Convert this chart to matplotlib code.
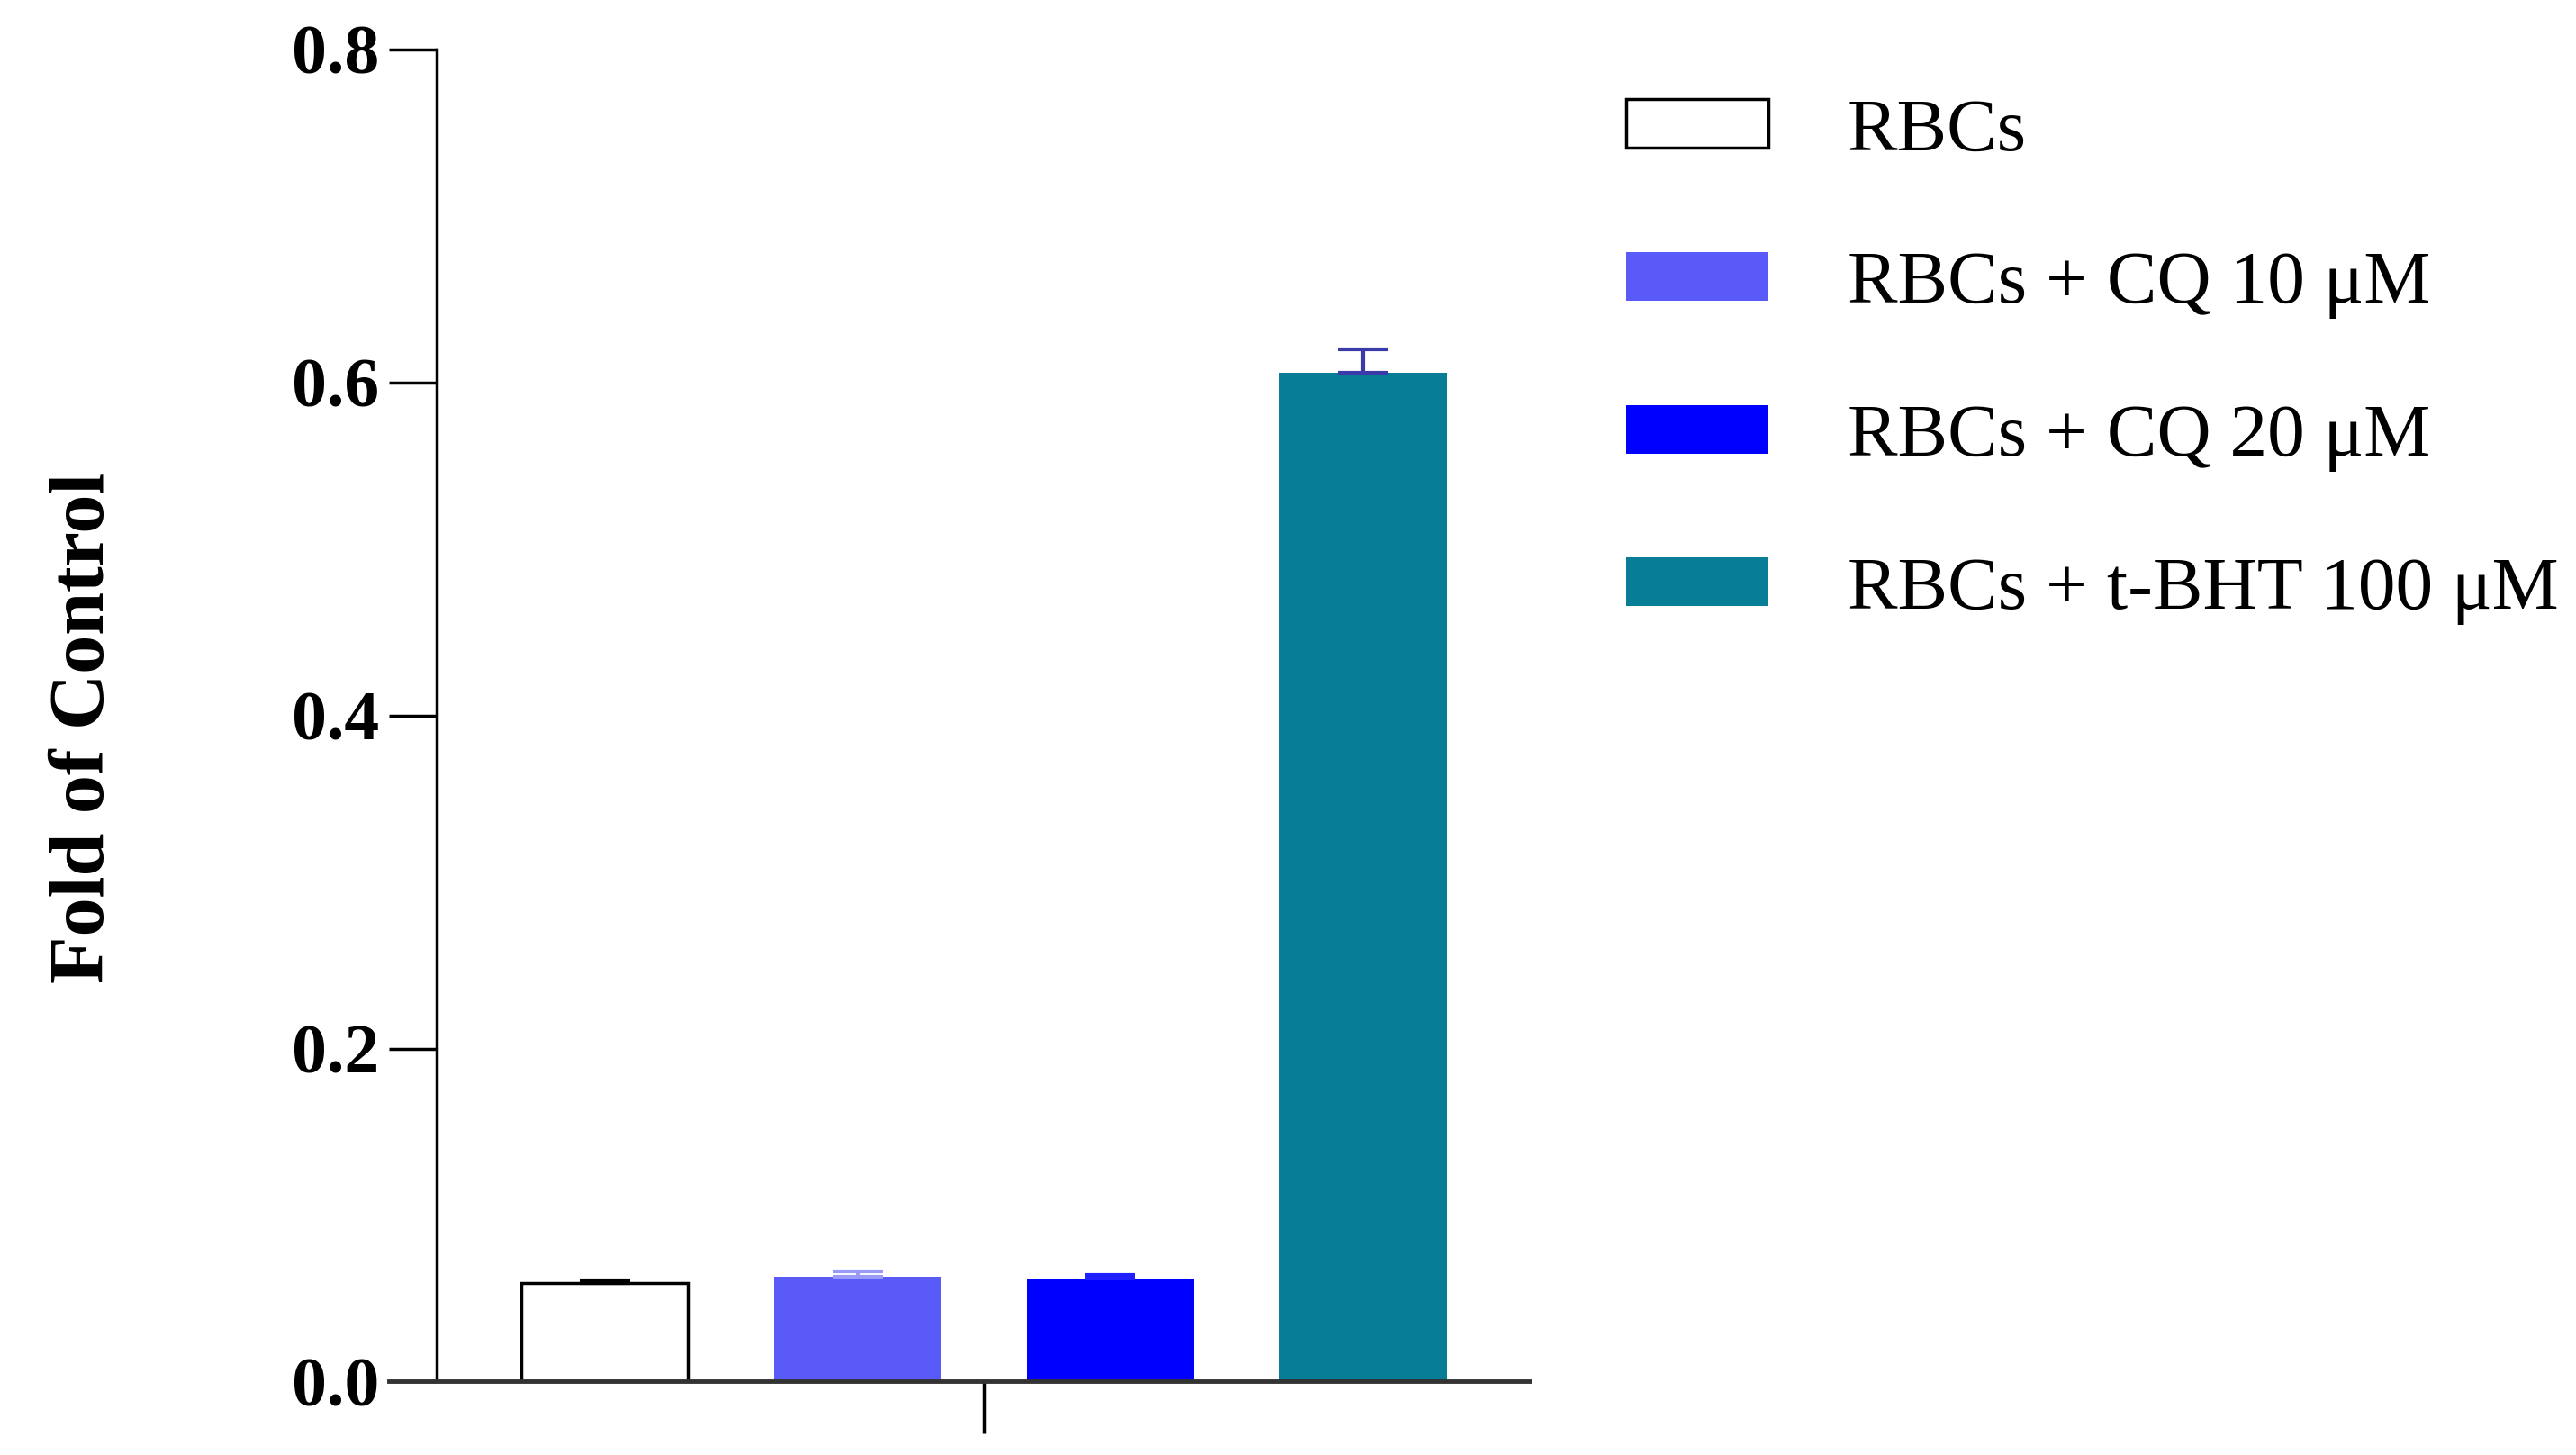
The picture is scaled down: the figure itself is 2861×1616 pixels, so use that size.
import matplotlib
matplotlib.use("Agg")
import matplotlib.pyplot as plt
from matplotlib.patches import Patch

groups = ["RBCs", "RBCs + CQ 10 μM", "RBCs + CQ 20 μM", "RBCs + t-BHT 100 μM"]
means = [0.059, 0.063, 0.062, 0.606]
errs = [0.002, 0.003, 0.002, 0.014]
face_colors = ["#ffffff", "#5a5af8", "#0000ff", "#087d96"]
edge_colors = ["#000000", "#5a5af8", "#0000ff", "#087d96"]
err_colors = ["#000000", "#9a9af8", "#2020ff", "#3a3aa8"]
yticks = [0.0, 0.2, 0.4, 0.6, 0.8]
ylabel = "Fold of Control"

plt.rcParams['font.family'] = ['Liberation Serif', 'DejaVu Serif']
plt.rcParams['font.weight'] = 'bold'

fig = plt.figure(figsize=(28.61, 16.16), dpi=100)
ax = fig.add_axes([0.151, 0.0505, 0.443, 0.9155])

x = list(range(len(groups)))
for i in x:
    ax.bar(i, means[i], width=0.66, color=face_colors[i], edgecolor=edge_colors[i],
           linewidth=2.5 if i == 0 else 0, zorder=2)
    ax.errorbar(i, means[i], yerr=[[0], [errs[i]]], fmt='none', ecolor=err_colors[i],
                elinewidth=3, capsize=20, capthick=3, zorder=3)

ax.set_xlim(-0.854, 3.66)
ax.set_ylim(0, 0.8)
ax.set_yticks(yticks)
ax.set_yticklabels([f"{t:.1f}" for t in yticks])
ax.set_xticks([1.5])
ax.set_xticklabels([""])
ax.tick_params(axis='y', length=38, width=2.5, labelsize=56, pad=8)
ax.tick_params(axis='x', length=42, width=2.5)
for s in ['top', 'right']:
    ax.spines[s].set_visible(False)
ax.spines['left'].set_position(('data', -0.666))
ax.spines['left'].set_linewidth(2.5)
ax.spines['bottom'].set_linewidth(3.5)
ax.spines['bottom'].set_color('#333333')

fig.text(0.033, 0.50, ylabel, rotation=90, fontsize=62, fontweight='bold',
         ha='center', va='center')

handles = [Patch(facecolor=face_colors[i], edgecolor=edge_colors[i],
                 linewidth=2.5 if i == 0 else 0) for i in x]
fig.legend(handles, groups, loc='upper left', bbox_to_anchor=(0.6195, 0.953),
           frameon=False, prop={'size': 60, 'weight': 'normal'},
           handlelength=1.9, handleheight=0.62,
           handletextpad=1.05, labelspacing=1.13, borderaxespad=0)

fig.savefig("out.png", dpi=100)
